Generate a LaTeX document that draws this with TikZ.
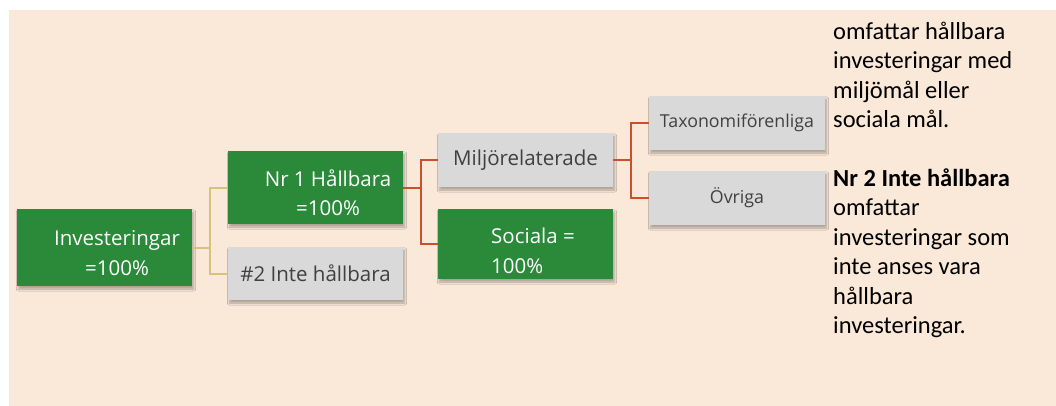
\documentclass[tikz,border=0pt]{standalone}
\usepackage{fontspec}
\setmainfont{Open Sans}
\newfontfamily\calib{Carlito}
\usetikzlibrary{shadows.blur}
\definecolor{bgbeige}{RGB}{250,232,216}
\definecolor{boxgreen}{RGB}{43,137,58}
\definecolor{boxgray}{RGB}{217,217,217}
\definecolor{txtgray}{RGB}{64,64,64}
\definecolor{linered}{RGB}{200,80,45}
\definecolor{lineyel}{RGB}{210,195,125}
\tikzset{
  basebox/.style={rectangle, inner sep=0pt, minimum width=175pt,
    blur shadow={shadow blur steps=6, shadow xshift=1.5pt, shadow yshift=-3pt, shadow opacity=30}},
  greenbox/.style={basebox, fill=boxgreen},
  graybox/.style={basebox, fill=boxgray},
  gtext/.style={text=white, font=\fontsize{20.5}{29.5}\selectfont, align=center},
  ytext/.style={text=txtgray, font=\fontsize{20.5}{29.5}\selectfont, align=center},
  stext/.style={text=txtgray, font=\fontsize{17.8}{22}\selectfont, align=center},
  yconn/.style={draw=lineyel, line width=2pt},
  rconn/.style={draw=linered, line width=2pt},
}
\begin{document}
\begin{tikzpicture}[x=1pt,y=-1pt]
\useasboundingbox (0,0) rectangle (1056,406);
\fill[white] (0,0) rectangle (1056,406);
\fill[bgbeige] (9,10) rectangle (1056,406);

% boxes
\node[greenbox, minimum height=77pt,
  label={[gtext, xshift=12.5pt, yshift=-5.5pt]center:Investeringar\\=100\%}]
  (inv) at (104.5,247.5) {};
\node[greenbox, minimum height=73pt,
  label={[gtext, xshift=12.5pt, yshift=-5pt]center:Nr 1 Hållbara\\=100\%}]
  (nr1) at (315.5,187.5) {};
\node[graybox, minimum height=53pt, ytext] (nr2) at (315.5,273.5) {\#2 Inte hållbara};
\node[graybox, minimum height=54pt, ytext] (milj) at (525.5,160) {Miljörelaterade};
\node[greenbox, minimum height=70pt,
  label={[gtext, align=left, xshift=7.5pt, yshift=-7pt]center:Sociala =\\100\%}]
  (soc) at (525.5,244) {};
\node[graybox, minimum width=176pt, minimum height=54pt, stext] (tax) at (737,123) {Taxonomiförenliga};
\node[graybox, minimum width=176pt, minimum height=54pt, stext] (ovr) at (737,198) {Övriga};

% connectors
\coordinate (j1) at (210,247.5);
\draw[yconn] (inv.east) -- (j1) |- (nr1.west);
\draw[yconn] (j1) |- (nr2.west);
\coordinate (j2) at (421,187.5);
\draw[rconn] (nr1.east) -- (j2) |- (milj.west);
\draw[rconn] (j2) |- (soc.west);
\coordinate (j3) at (631,160);
\draw[rconn] (milj.east) -- (j3) |- (tax.west);
\draw[rconn] (j3) |- (ovr.west);

% side text
\node[anchor=north west, inner sep=0pt, align=left, text=black,
  font=\calib\fontsize{24.5}{29.4}\selectfont] (side) at (833,22)
  {omfattar hållbara\\investeringar med\\miljömål eller\\sociala mål.\\[29.4pt]
   \textbf{Nr 2 Inte hållbara}\\omfattar\\investeringar som\\inte anses vara\\hållbara\\investeringar.};
\end{tikzpicture}
\end{document}
